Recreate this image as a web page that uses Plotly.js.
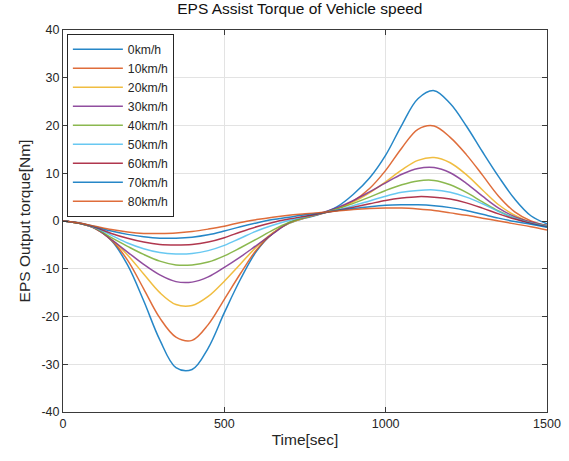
<!DOCTYPE html>
<html>
<head>
<meta charset="utf-8">
<script src="https://cdn.plot.ly/plotly-3.0.1.min.js"></script>
<style>html,body{margin:0;padding:0;background:#fff;}#chart{width:569px;height:461px;}</style>
</head>
<body>
<div id="chart"></div>
<script>
// Time axis (sec)
const timeSec = [0,50,100,150,200,250,300,350,400,450,500,550,600,650,700,750,800,850,900,950,1000,1050,1100,1150,1200,1250,1300,1350,1400,1450,1500];

const speedLabels = ["0km/h","10km/h","20km/h","30km/h","40km/h","50km/h","60km/h","70km/h","80km/h"];

// EPS output torque [Nm] per vehicle speed
const torque0  = [0,-0.5,-1.5,-4.1,-9.2,-16.7,-24.9,-30.7,-31.1,-26.6,-19.2,-12.2,-6.3,-2.6,-0.5,0.6,1.5,3.0,5.6,9.0,13.8,20.1,25.6,27.3,24.6,19.9,14.5,9.3,4.6,1.1,-0.6];
const torque10 = [0,-0.5,-1.6,-4.0,-8.2,-14.2,-20.3,-24.3,-25.0,-21.7,-16.4,-11.0,-6.0,-2.6,-0.4,0.7,1.5,2.6,4.2,6.8,10.6,15.3,19.2,19.9,17.5,13.9,9.6,5.2,1.9,0.0,-1.0];
const torque20 = [0,-0.5,-1.6,-3.9,-7.1,-11.1,-15.0,-17.5,-17.7,-15.8,-12.6,-9.0,-5.4,-2.5,-0.5,0.7,1.6,2.6,4.0,5.9,8.2,10.7,12.7,13.3,12.2,9.7,6.5,3.4,1.2,-0.3,-1.2];
const torque30 = [0,-0.5,-1.6,-3.9,-6.5,-9.1,-11.3,-12.7,-12.8,-11.7,-9.7,-7.5,-5.1,-2.7,-0.4,0.8,1.7,2.8,4.3,6.1,8.0,9.8,11.0,11.2,10.1,7.9,5.2,2.7,0.9,-0.2,-0.9];
const torque40 = [0,-0.5,-1.5,-3.5,-5.3,-7.0,-8.4,-9.2,-9.2,-8.6,-7.3,-5.6,-3.8,-1.9,-0.3,0.8,1.6,2.5,3.7,5.0,6.4,7.6,8.4,8.5,7.6,6.0,4.0,2.1,0.6,-0.4,-1.0];
const torque50 = [0,-0.4,-1.4,-3.0,-4.6,-5.8,-6.6,-6.9,-6.8,-6.2,-5.1,-3.6,-2.1,-0.9,0.1,0.9,1.6,2.3,3.2,4.2,5.2,6.0,6.4,6.5,6.0,5.0,3.6,2.0,0.6,-0.4,-1.1];
const torque60 = [0,-0.4,-1.3,-2.6,-3.6,-4.4,-4.9,-5.0,-4.9,-4.4,-3.5,-2.3,-1.2,-0.3,0.4,1.0,1.6,2.2,2.9,3.6,4.3,4.8,5.1,5.0,4.6,3.8,2.7,1.5,0.4,-0.5,-1.2];
const torque70 = [0,-0.4,-1.2,-2.1,-2.8,-3.3,-3.6,-3.6,-3.4,-2.9,-2.1,-1.2,-0.4,0.3,0.8,1.3,1.7,2.2,2.6,3.0,3.3,3.4,3.4,3.2,2.8,2.2,1.4,0.6,-0.1,-0.7,-1.3];
const torque80 = [0,-0.4,-1.1,-1.8,-2.3,-2.6,-2.6,-2.5,-2.2,-1.7,-1.1,-0.3,0.3,0.8,1.2,1.5,1.8,2.1,2.4,2.6,2.7,2.7,2.5,2.2,1.7,1.2,0.6,0.0,-0.6,-1.2,-1.9];

const yTickVals = [-40,-30,-20,-10,0,10,20,30,40];
const yTickText = ["-40","-30","-20","-10","0","10","20","30","40"];
const xTickVals = [0,500,1000,1500];

const seriesValues = [torque0,torque10,torque20,torque30,torque40,torque50,torque60,torque70,torque80];
const lineColors = ["#0072BD","#D95319","#EDB120","#7E2F8E","#77AC30","#4DBEEE","#A2142F","#0072BD","#D95319"];

const traces = seriesValues.map((vals, i) => ({
  x: timeSec,
  y: vals,
  type: "scatter",
  mode: "lines",
  name: speedLabels[i],
  opacity: 0.85,
  line: {color: lineColors[i], width: 1.5, shape: "spline", smoothing: 1}
}));

const fontFam = "Liberation Sans, Arial, Helvetica, sans-serif";
const axisCommon = {
  showline: true, mirror: "ticks", linecolor: "#3a3a3a", linewidth: 1,
  ticks: "inside", ticklen: 5, tickcolor: "#3a3a3a",
  showgrid: true, gridcolor: "#e3e3e3", gridwidth: 1,
  zeroline: false,
  tickfont: {family: fontFam, size: 12.5, color: "#262626"}
};

const layout = {
  width: 569, height: 461,
  margin: {l: 63, r: 22, t: 30, b: 49},
  paper_bgcolor: "#ffffff", plot_bgcolor: "#ffffff",
  font: {family: fontFam, color: "#262626"},
  title: {text: "EPS Assist Torque of Vehicle speed", font: {family: fontFam, size: 15.5, color: "#111"}, x: 0.527, xanchor: "center", y: 0.993, yanchor: "top"},
  xaxis: Object.assign({}, axisCommon, {
    range: [0, 1500], tickvals: xTickVals,
    title: {text: "Time[sec]", font: {family: fontFam, size: 15.5, color: "#262626"}, standoff: 4}
  }),
  yaxis: Object.assign({}, axisCommon, {
    range: [-40, 40], tickvals: yTickVals, ticktext: yTickText,
    title: {text: "EPS Output torque[Nm]", font: {family: fontFam, size: 15.5, color: "#262626"}, standoff: 6}
  }),
  showlegend: true,
  legend: {
    x: 0.008, y: 0.99, xanchor: "left", yanchor: "top",
    bgcolor: "#ffffff", bordercolor: "#262626", borderwidth: 1,
    font: {family: fontFam, size: 12.2, color: "#262626"},
    tracegroupgap: 0, itemwidth: 50
  }
};

Plotly.newPlot("chart", traces, layout, {displayModeBar: false, staticPlot: true});
</script>
</body>
</html>
